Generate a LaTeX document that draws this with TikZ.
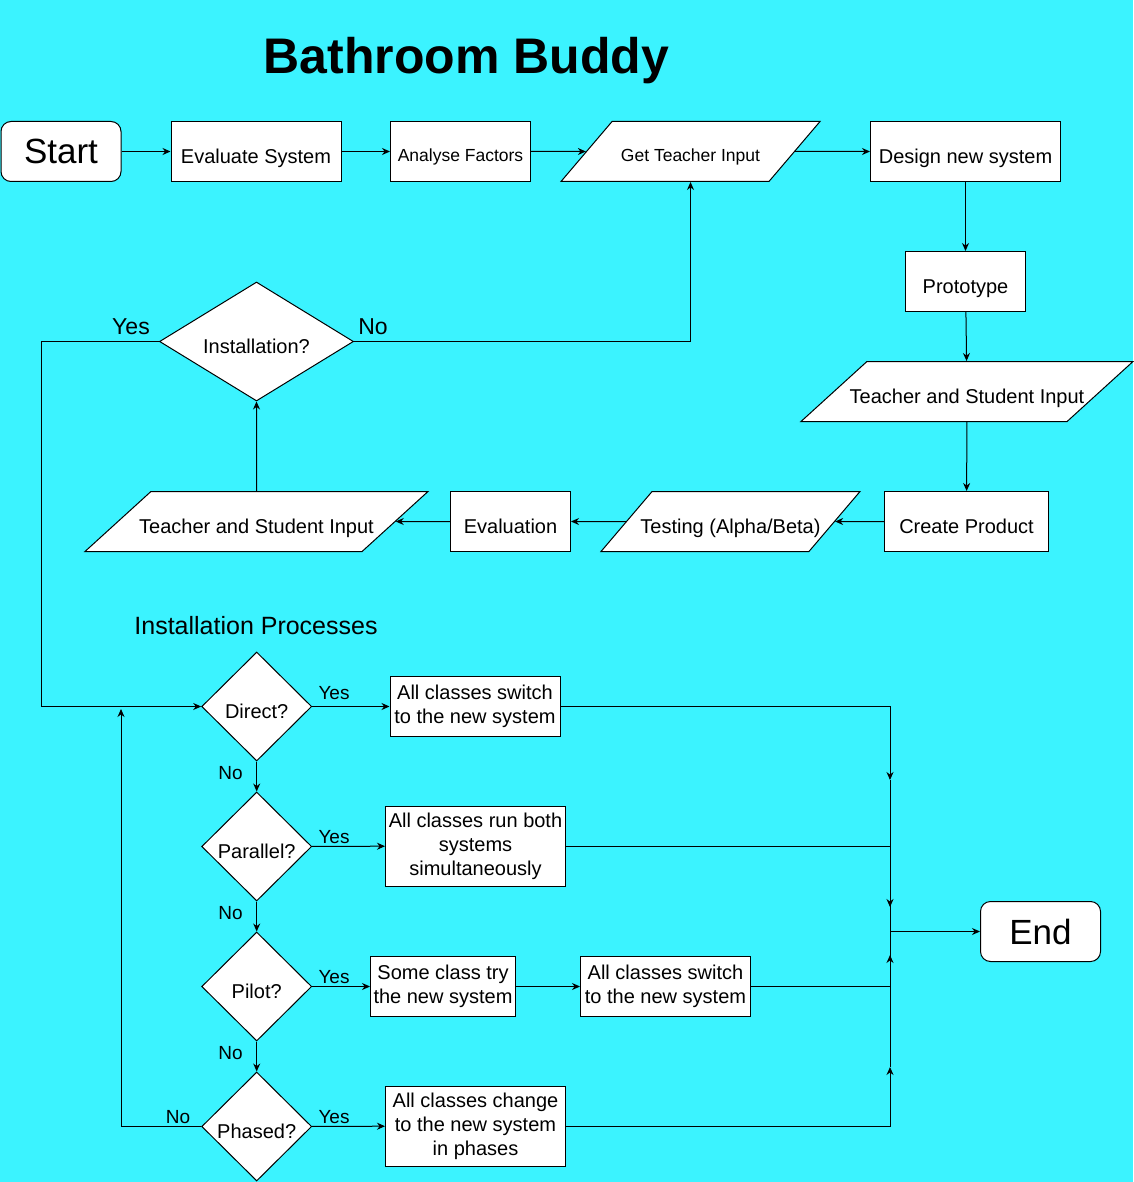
\documentclass[tikz,border=0pt]{standalone}
\usepackage{fontspec}
\setmainfont{Liberation Sans}
\usepackage{tikz}
\usetikzlibrary{arrows.meta,positioning,shapes.geometric}
\definecolor{Sky}{HTML}{3BF3FF}

\begin{document}
\begin{tikzpicture}[x=1pt,y=-1pt,line width=1pt,
    blk/.style={draw=black,fill=white,minimum height=60pt,minimum width=120pt,
      align=center,inner sep=2pt,font=\fontsize{20}{24}\selectfont},
    oneline/.style={text height=24.4pt,text depth=0pt},
    term/.style={blk,rounded corners=10pt,font=\fontsize{35}{40}\selectfont},
    io/.style={draw=black,fill=white,trapezium,trapezium left angle=49.6,
      trapezium right angle=130.4,trapezium stretches body,
      text height=24.4pt,text depth=0pt,inner xsep=2pt,inner ysep=17.8pt,
      font=\fontsize{20}{24}\selectfont},
    dec/.style={draw=black,fill=white,diamond,aspect=1,inner sep=0pt,oneline,
      minimum width=110pt,minimum height=109pt,font=\fontsize{20}{24}\selectfont},
    lbl/.style={anchor=base,inner sep=0pt,font=\fontsize{19}{22}\selectfont},
    >={Stealth[length=8pt,width=7pt]}]
  \useasboundingbox (0,0) rectangle (1133,1182);
  \fill[Sky] (0,0) rectangle (1133,1182);
  \node[anchor=base,font=\bfseries\fontsize{50}{60}\selectfont] (title) at (466.5,74) {Bathroom Buddy};

  % main loop
  \node[term] (start) at (61,151.5) {Start};
  \node[blk,oneline,minimum width=170pt] (evalsys) at (256,151.5) {Evaluate System};
  \node[blk,minimum width=140pt,text height=21pt,text depth=0pt,font=\fontsize{17.5}{21}\selectfont] (analyse) at (460.5,151.5) {Analyse Factors};
  \node[io,minimum width=259pt,text height=21pt,inner ysep=19.5pt,font=\fontsize{17.5}{21}\selectfont] (getinput) at (690.5,151.5) {Get Teacher Input};
  \node[blk,oneline,minimum width=190pt] (design) at (965.5,151.5) {Design new system};
  \node[blk,oneline] (proto) at (965.5,281.5) {Prototype};
  \node[io,minimum width=332pt,inner xsep=-20pt,trapezium left angle=42.3,trapezium right angle=137.7] (tsiright) at (967,391.5) {Teacher and Student Input};
  \node[blk,oneline,minimum width=164pt] (create) at (966.5,521.5) {Create Product};
  \node[io,minimum width=259pt,inner xsep=-14pt] (testing) at (730.5,521.5) {Testing (Alpha/Beta)};
  \node[blk,oneline] (evaluation) at (510.5,521.5) {Evaluation};
  \node[io,minimum width=343pt,inner xsep=-15pt,trapezium left angle=42.3,trapezium right angle=137.7] (tsileft) at (256.5,521.5) {Teacher and Student Input};
  \node[dec,minimum width=194pt,minimum height=119pt,aspect=1.6] (install) at (256.5,341.5) {Installation?};
  \node[lbl,font=\fontsize{23}{26}\selectfont] (yesinst) at (131,334) {Yes};
  \node[lbl,font=\fontsize{23}{26}\selectfont] (noinst) at (373,334) {No};

  \draw[->] (start) -- (evalsys);
  \draw[->] (evalsys) -- (analyse);
  \draw[->] (analyse) -- (getinput);
  \draw[->] (getinput) -- (design);
  \draw[->] (design) -- (proto);
  \draw[->] (proto) -- (tsiright);
  \draw[->] (tsiright) -- (create);
  \draw[->] (create) -- (testing);
  \draw[->] (testing) -- (evaluation);
  \draw[->] (evaluation) -- (tsileft);
  \draw[->] (tsileft) -- (install);
  \draw[->] (install.east) -| (getinput.south);

  % installation processes
  \node[font=\fontsize{25}{29}\selectfont] (procs) at (256,626) {Installation Processes};
  \node[dec] (direct) at (256.7,706.5) {Direct?};
  \node[dec] (parallel) at (256.7,846.5) {Parallel?};
  \node[dec] (pilot) at (256.7,986.5) {Pilot?};
  \node[dec] (phased) at (256.7,1126.5) {Phased?};
  \node[blk,minimum width=170pt] (allswitch) at (475,706.5) {All classes switch\\to the new system};
  \node[blk,minimum width=180pt,minimum height=80pt] (runboth) at (475.5,846) {All classes run both\\systems\\simultaneously};
  \node[blk,minimum width=145pt] (sometry) at (443,986.5) {Some class try\\the new system};
  \node[blk,minimum width=170pt] (allswitchb) at (665.5,986.5) {All classes switch\\to the new system};
  \node[blk,minimum width=180pt,minimum height=80pt] (allchange) at (475.5,1126) {All classes change\\to the new system\\in phases};
  \node[term] (finish) at (1040.5,931.5) {End};

  \node[lbl] (yesa) at (334,699) {Yes};
  \node[lbl] (yesb) at (334,843) {Yes};
  \node[lbl] (yesc) at (334,983) {Yes};
  \node[lbl] (yesd) at (334,1123) {Yes};
  \node[lbl] (noa) at (230.5,779) {No};
  \node[lbl] (nob) at (230.5,919) {No};
  \node[lbl] (noc) at (230.5,1059) {No};
  \node[lbl] (nod) at (178,1123) {No};

  \coordinate (yesdrop) at (41,706.5);
  \coordinate (noback) at (121,709);
  \coordinate (mergea) at (890,780);
  \coordinate (mergeb) at (890,907);
  \coordinate (mergec) at (890,955);
  \coordinate (merged) at (890,1067);
  \coordinate (mergeend) at (890,931.5);

  \draw[->] (install.west) -| (yesdrop) -- (direct.west);
  \draw[->] (phased.west) -| (noback);
  \draw[->] (direct) -- (parallel);
  \draw[->] (parallel) -- (pilot);
  \draw[->] (pilot) -- (phased);
  \draw[->] (direct) -- (allswitch);
  \draw[->] (parallel) -- (runboth);
  \draw[->] (pilot) -- (sometry);
  \draw[->] (sometry) -- (allswitchb);
  \draw[->] (phased) -- (allchange);
  \draw[->] (allswitch.east) -| (mergea);
  \draw[->] (runboth.east) -| (mergeb);
  \draw[->] (allswitchb.east) -| (mergec);
  \draw[->] (allchange.east) -| (merged);
  \draw (mergea) -- (merged);
  \draw[->] (mergeend) -- (finish);
\end{tikzpicture}
\end{document}
